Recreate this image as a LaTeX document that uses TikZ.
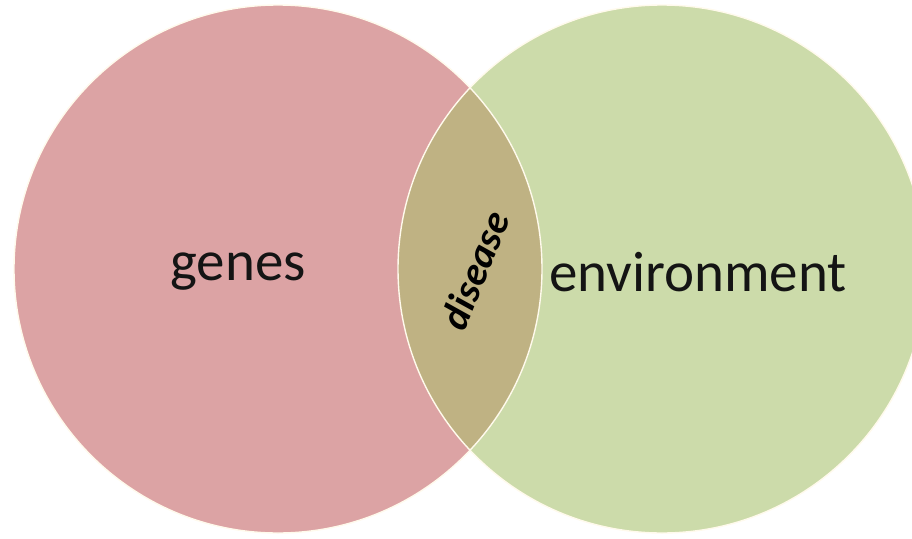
\documentclass[tikz,border=0pt]{standalone}
\usepackage{fontspec}
\setmainfont{Carlito}
\definecolor{genespink}{HTML}{DCA3A4}
\definecolor{envgreen}{HTML}{CCDBAA}
\definecolor{lensolive}{HTML}{BFB283}
\definecolor{rimcream}{HTML}{FFFAEC}
\definecolor{txtdark}{HTML}{141414}
\begin{document}
\begin{tikzpicture}[x=1pt,y=-1pt,
  setcircle/.style={circle, minimum size=528pt, inner sep=0pt, outer sep=0pt},
  rim/.style={draw=rimcream, line width=1.4pt},
  biglabel/.style={font=\fontsize{57}{60}\selectfont, text=txtdark, inner sep=0pt},
  lenslabel/.style={font=\fontsize{40}{42}\selectfont\bfseries\itshape, text=black, inner sep=0pt}]
\useasboundingbox (0,0) rectangle (912,538);
\clip (0,0) rectangle (912,538);
\fill[white] (0,0) rectangle (912,538);
% circles
\node[setcircle, fill=genespink] (left) at (278,269) {};
\node[setcircle, fill=envgreen] (right) at (662,269) {};
% lens
\begin{scope}
  \clip (278,269) circle (264);
  \fill[lensolive] (662,269) circle (264);
\end{scope}
% rims
\draw[rim] (278,269) circle (264);
\draw[rim] (662,269) circle (264);
% labels
\node[biglabel] (genes) at (238,272) {genes};
\node[biglabel] (env) at (698,272) {environment};
\node[lenslabel, rotate=68] (disease) at (475,270) {disease};
\end{tikzpicture}
\end{document}
